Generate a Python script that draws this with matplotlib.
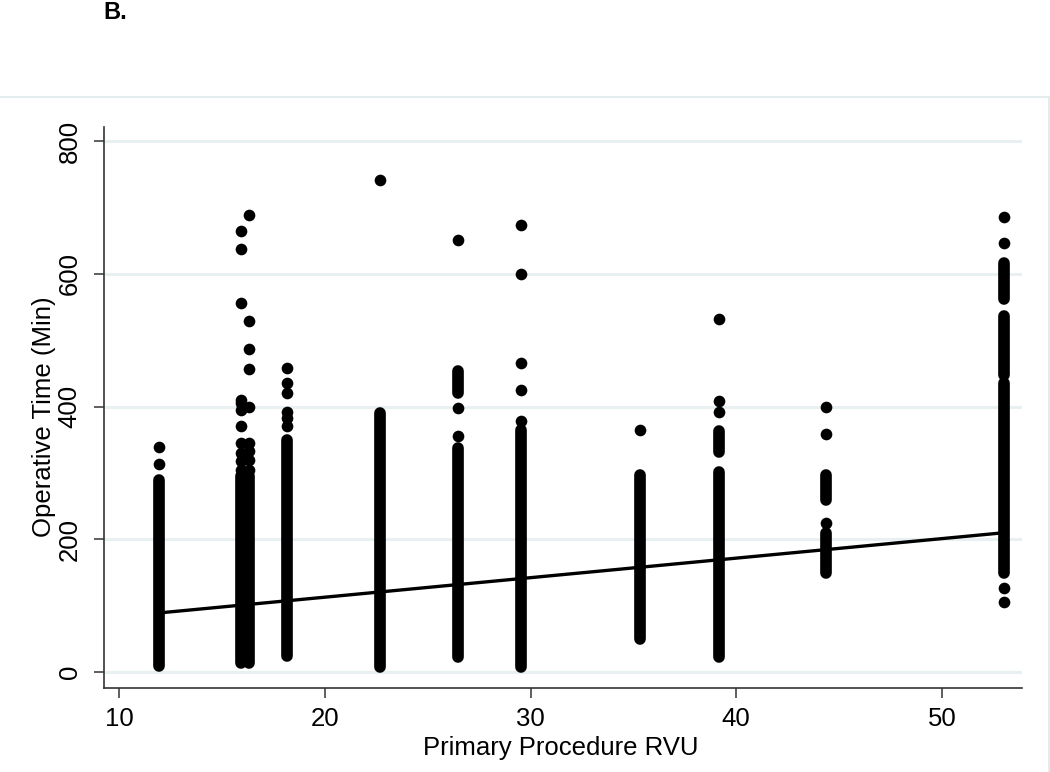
import matplotlib
matplotlib.use("Agg")
import matplotlib.pyplot as plt
from matplotlib.patches import Rectangle

plt.rcParams['font.family'] = ['Liberation Sans', 'DejaVu Sans']

# ---------------- data ----------------
rvu = [11.94, 15.91, 16.31, 18.16, 22.67, 26.48, 29.54, 35.32, 39.16, 44.37, 53.03]

# densely packed stretches of points (low, high) per RVU column
dense_ranges = [
    [(9, 290)],
    [(14, 295)],
    [(14, 295)],
    [(24, 350)],
    [(8, 390)],
    [(23, 338), (420, 453)],
    [(8, 364)],
    [(50, 297)],
    [(23, 302), (332, 363)],
    [(149, 209), (259, 297)],
    [(149, 436), (447, 536), (562, 616)],
]

# individual (isolated) points per RVU column
single_points = [
    [313, 339],
    [305, 318, 330, 345, 371, 395, 405, 410, 556, 637, 665],
    [305, 320, 333, 345, 400, 456, 486, 529, 689],
    [370, 383, 391, 421, 435, 458],
    [741],
    [356, 397, 651],
    [378, 425, 466, 599, 674],
    [364],
    [392, 408, 532],
    [224, 359, 400],
    [106, 127, 647, 686],
]

# linear fit of operative time on RVU
fit_intercept = 54.0
fit_slope = 2.94

x_ticks = [10, 20, 30, 40, 50]
y_ticks = [0, 200, 400, 600, 800]
x_label = "Primary Procedure RVU"
y_label = "Operative Time (Min)"
panel_label = "B."

# ---------------- figure ----------------
W, H = 1050, 772
fig = plt.figure(figsize=(W / 100, H / 100), dpi=100)
fig.patch.set_facecolor('white')

# light graph-region frame (left/bottom edges fall outside the image)
frame = Rectangle((-5 / W, -0.05), 1054 / W, 1.05 - 97 / H, transform=fig.transFigure,
                  fill=False, edgecolor='#E4ECEE', lw=1.5, zorder=0)
fig.patches.append(frame)

ax = fig.add_axes([104 / W, 1 - 688 / H, (1022 - 104) / W, (688 - 127) / H])
ax.set_facecolor('white')
ax.set_xlim(9.25, 53.9)
ax.set_ylim(-24, 821)

for yt in y_ticks:
    ax.axhline(yt, color='#E8F0F1', lw=2.2, zorder=0)

ms = 8.4
for x, segs, pts in zip(rvu, dense_ranges, single_points):
    for lo, hi in segs:
        ax.plot([x, x], [lo, hi], color='black', lw=ms, solid_capstyle='round', zorder=2)
    ax.plot([x] * len(pts), pts, 'o', ms=ms, color='black', mew=0, zorder=2)

x0, x1 = min(rvu), max(rvu)
ax.plot([x0, x1], [fit_intercept + fit_slope * x0, fit_intercept + fit_slope * x1],
        color='black', lw=2.4, zorder=3)

for s in ['top', 'right']:
    ax.spines[s].set_visible(False)
for s in ['left', 'bottom']:
    ax.spines[s].set_color('#333333')
    ax.spines[s].set_linewidth(1.2)

fs = 18.5
ax.set_xticks(x_ticks)
ax.set_yticks(y_ticks)
ax.tick_params(axis='both', direction='out', length=7, width=1.1, color='#333333',
               labelsize=fs, labelcolor='black')
ax.tick_params(axis='x', pad=7)
ax.tick_params(axis='y', pad=9)
for lbl in ax.get_yticklabels():
    lbl.set_rotation(90)
    lbl.set_va('center')

ax.set_xlabel(x_label, fontsize=fs)
ax.xaxis.set_label_coords((561 - 104) / 918, -(755 - 688) / 561)
ax.xaxis.label.set_va('baseline')
ax.set_ylabel(y_label, fontsize=fs)
ax.yaxis.set_label_coords(-(104 - 56) / 918, (688 - 417) / 561)

fig.text(103 / W, 1 - 19 / H, panel_label, fontsize=17, fontweight='bold',
         ha='left', va='baseline')

fig.savefig('out.png', dpi=100)
